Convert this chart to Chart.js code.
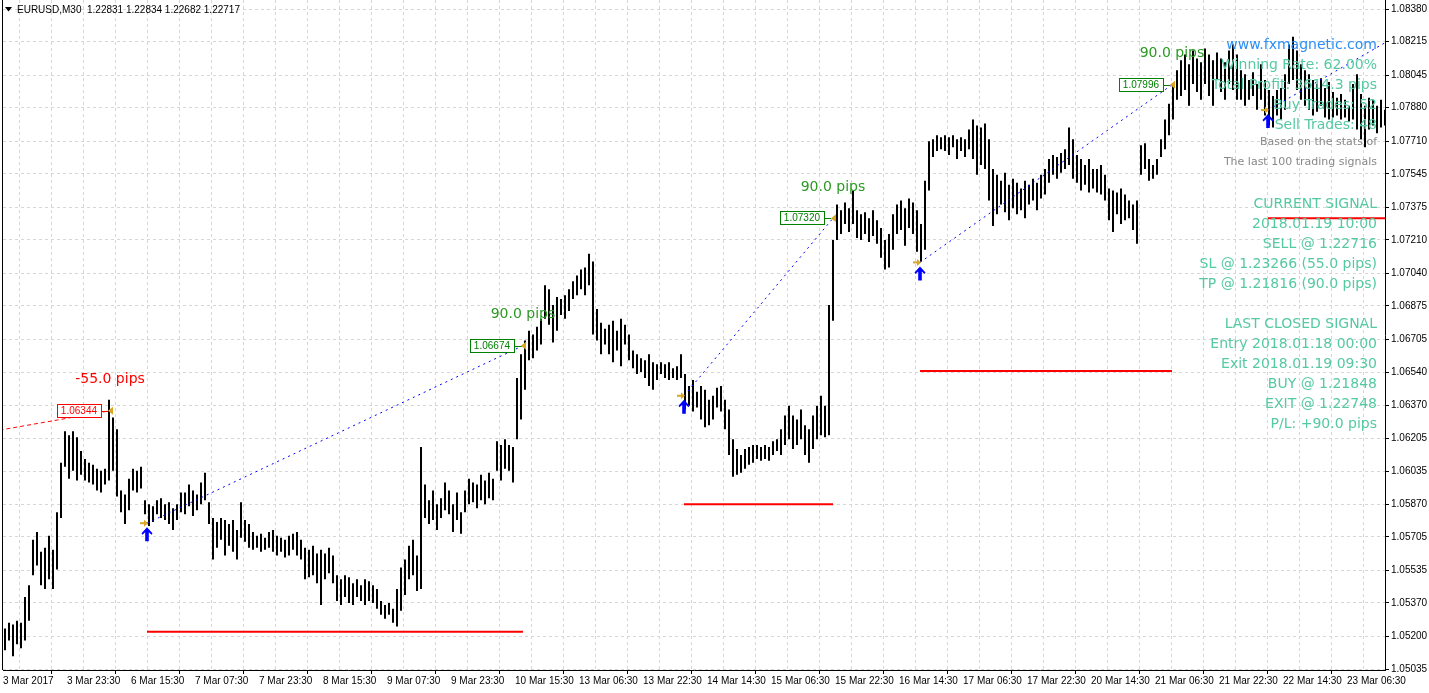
<!DOCTYPE html>
<html>
<head>
<meta charset="utf-8">
<title>EURUSD,M30</title>
<script src="https://cdn.jsdelivr.net/npm/chart.js@4.4.0/dist/chart.umd.min.js"></script>
<style>
  html, body { margin: 0; padding: 0; background: #fff; }
  #wrap { position: relative; width: 1429px; height: 693px; }
</style>
</head>
<body>
<div id="wrap"><canvas id="chart"></canvas></div>
<script>
// header quote
const symbol = 'EURUSD,M30';
const lastQuote = ['1.22831', '1.22834', '1.22682', '1.22717'];

// time axis labels (one every 16 bars)
const timeLabels = ['3 Mar 2017', '3 Mar 23:30', '6 Mar 15:30', '7 Mar 07:30', '7 Mar 23:30',
  '8 Mar 15:30', '9 Mar 07:30', '9 Mar 23:30', '10 Mar 15:30', '13 Mar 06:30', '13 Mar 22:30',
  '14 Mar 14:30', '15 Mar 06:30', '15 Mar 22:30', '16 Mar 14:30', '17 Mar 06:30', '17 Mar 22:30',
  '20 Mar 14:30', '21 Mar 06:30', '21 Mar 22:30', '22 Mar 14:30', '23 Mar 06:30'];

// price axis labels
const priceTicks = [1.05035, 1.05200, 1.05370, 1.05535, 1.05705, 1.05870, 1.06035, 1.06205,
  1.06370, 1.06540, 1.06705, 1.06875, 1.07040, 1.07210, 1.07375, 1.07545, 1.07710, 1.07880,
  1.08045, 1.08215, 1.08380];

// bar highs / lows
const barHigh = [
  1.0524,1.0527,1.0526,1.0528,1.0527,1.0540,1.0546,1.0569,1.0573,1.0563,
  1.0565,1.0571,1.0564,1.0583,1.0608,1.0624,1.0622,1.0624,1.0621,1.0614,
  1.0610,1.0608,1.0607,1.0605,1.0604,1.0605,1.0640,1.0631,1.0625,1.0594,
  1.0592,1.0600,1.0605,1.0604,1.0606,1.0589,1.0587,1.0586,1.0589,1.0590,
  1.0587,1.0588,1.0585,1.0587,1.0593,1.0593,1.0597,1.0594,1.0592,1.0598,
  1.0603,1.0588,1.0580,1.0578,1.0580,1.0579,1.0577,1.0579,1.0574,1.0588,
  1.0579,1.0577,1.0573,1.0571,1.0572,1.0570,1.0573,1.0574,1.0571,1.0570,
  1.0569,1.0571,1.0572,1.0573,1.0569,1.0565,1.0564,1.0566,1.0562,1.0564,
  1.0562,1.0565,1.0561,1.0551,1.0549,1.0551,1.0550,1.0547,1.0549,1.0546,
  1.0549,1.0548,1.0546,1.0544,1.0538,1.0536,1.0537,1.0534,1.0544,1.0555,
  1.0559,1.0566,1.0569,1.0561,1.0616,1.0597,1.0589,1.0594,1.0587,1.0590,
  1.0598,1.0594,1.0587,1.0593,1.0583,1.0594,1.0600,1.0598,1.0597,1.0602,
  1.0599,1.0603,1.0600,1.0619,1.0617,1.0620,1.0617,1.0616,1.0651,1.0663,
  1.0670,1.0675,1.0673,1.0677,1.0681,1.0698,1.0696,1.0688,1.0692,1.0691,
  1.0693,1.0696,1.0700,1.0703,1.0706,1.0707,1.0714,1.0710,1.0686,1.0679,
  1.0676,1.0678,1.0680,1.0675,1.0681,1.0678,1.0673,1.0665,1.0663,1.0661,
  1.0660,1.0663,1.0659,1.0658,1.0659,1.0658,1.0659,1.0656,1.0657,1.0663,
  1.0653,1.0647,1.0650,1.0644,1.0647,1.0645,1.0640,1.0642,1.0646,1.0647,
  1.0640,1.0635,1.0620,1.0615,1.0612,1.0615,1.0616,1.0617,1.0617,1.0616,
  1.0617,1.0616,1.0619,1.0620,1.0625,1.0632,1.0637,1.0632,1.0630,1.0635,
  1.0627,1.0625,1.0632,1.0637,1.0642,1.0637,1.0688,1.0721,1.0739,1.0736,
  1.0740,1.0737,1.0746,1.0736,1.0734,1.0735,1.0732,1.0736,1.0731,1.0727,
  1.0721,1.0724,1.0734,1.0739,1.0741,1.0737,1.0742,1.0740,1.0736,1.0729,
  1.0751,1.0771,1.0772,1.0774,1.0773,1.0774,1.0773,1.0774,1.0772,1.0773,
  1.0772,1.0777,1.0782,1.0779,1.0778,1.0780,1.0772,1.0757,1.0754,1.0751,
  1.0755,1.0749,1.0752,1.0750,1.0747,1.0751,1.0749,1.0752,1.0750,1.0754,
  1.0757,1.0762,1.0764,1.0763,1.0765,1.0767,1.0778,1.0772,1.0764,1.0762,
  1.0759,1.0762,1.0757,1.0757,1.0759,1.0754,1.0747,1.0746,1.0745,1.0747,
  1.0744,1.0741,1.0739,1.0741,1.0769,1.0770,1.0762,1.0759,1.0762,1.0772,
  1.0782,1.0790,1.0800,1.0807,1.0812,1.0815,1.0810,1.0817,1.0813,1.0811,
  1.0818,1.0815,1.0812,1.0816,1.0813,1.0811,1.0817,1.0820,1.0815,1.0807,
  1.0805,1.0802,1.0806,1.0800,1.0810,1.0802,1.0797,1.0794,1.0797,1.0798,
  1.0805,1.0820,1.0824,1.0817,1.0810,1.0807,1.0805,1.0802,1.0800,1.0803,
  1.0798,1.0801,1.0796,1.0793,1.0795,1.0792,1.0789,1.0800,1.0805,1.0795,
  1.0789,1.0793,1.0792,1.0789,1.0792,1.0787
];
const barLow = [
  1.0513,1.0518,1.0510,1.0516,1.0514,1.0518,1.0528,1.0551,1.0556,1.0546,
  1.0544,1.0549,1.0544,1.0554,1.0580,1.0606,1.0600,1.0604,1.0599,1.0602,
  1.0599,1.0598,1.0597,1.0594,1.0593,1.0597,1.0599,1.0604,1.0591,1.0583,
  1.0577,1.0584,1.0594,1.0593,1.0595,1.0582,1.0576,1.0578,1.0582,1.0580,
  1.0579,1.0577,1.0574,1.0579,1.0583,1.0582,1.0586,1.0581,1.0584,1.0587,
  1.0589,1.0577,1.0559,1.0565,1.0569,1.0561,1.0566,1.0563,1.0559,1.0570,
  1.0568,1.0565,1.0564,1.0565,1.0563,1.0564,1.0565,1.0563,1.0561,1.0563,
  1.0560,1.0561,1.0564,1.0561,1.0559,1.0549,1.0550,1.0551,1.0547,1.0536,
  1.0549,1.0552,1.0547,1.0538,1.0536,1.0540,1.0537,1.0536,1.0540,1.0538,
  1.0536,1.0538,1.0537,1.0534,1.0531,1.0529,1.0531,1.0527,1.0525,1.0533,
  1.0541,1.0549,1.0551,1.0543,1.0544,1.0580,1.0577,1.0579,1.0574,1.0580,
  1.0584,1.0582,1.0573,1.0579,1.0572,1.0583,1.0587,1.0588,1.0585,1.0589,
  1.0587,1.0590,1.0589,1.0604,1.0599,1.0605,1.0604,1.0598,1.0620,1.0630,
  1.0645,1.0660,1.0661,1.0665,1.0668,1.0681,1.0678,1.0669,1.0675,1.0683,
  1.0681,1.0685,1.0691,1.0693,1.0696,1.0693,1.0698,1.0673,1.0670,1.0663,
  1.0668,1.0663,1.0659,1.0665,1.0657,1.0668,1.0660,1.0656,1.0653,1.0654,
  1.0651,1.0647,1.0645,1.0650,1.0653,1.0651,1.0650,1.0651,1.0650,1.0651,
  1.0635,1.0637,1.0634,1.0636,1.0630,1.0626,1.0627,1.0630,1.0636,1.0634,
  1.0625,1.0612,1.0601,1.0602,1.0603,1.0605,1.0607,1.0608,1.0610,1.0609,
  1.0610,1.0609,1.0612,1.0614,1.0612,1.0617,1.0620,1.0615,1.0617,1.0620,
  1.0612,1.0608,1.0615,1.0620,1.0622,1.0621,1.0622,1.0680,1.0721,1.0724,
  1.0729,1.0725,1.0729,1.0722,1.0721,1.0724,1.0720,1.0723,1.0719,1.0712,
  1.0706,1.0707,1.0716,1.0724,1.0726,1.0718,1.0727,1.0724,1.0715,1.0710,
  1.0716,1.0746,1.0763,1.0766,1.0767,1.0766,1.0764,1.0768,1.0762,1.0766,
  1.0763,1.0767,1.0762,1.0754,1.0759,1.0757,1.0741,1.0728,1.0734,1.0739,
  1.0735,1.0731,1.0737,1.0734,1.0736,1.0732,1.0739,1.0741,1.0736,1.0742,
  1.0744,1.0750,1.0754,1.0752,1.0755,1.0757,1.0759,1.0752,1.0750,1.0746,
  1.0749,1.0745,1.0747,1.0745,1.0744,1.0741,1.0731,1.0725,1.0734,1.0729,
  1.0731,1.0732,1.0726,1.0719,1.0754,1.0757,1.0751,1.0752,1.0754,1.0763,
  1.0767,1.0774,1.0782,1.0792,1.0794,1.0797,1.0789,1.0800,1.0796,1.0792,
  1.0800,1.0794,1.0789,1.0802,1.0796,1.0792,1.0800,1.0797,1.0792,1.0792,
  1.0789,1.0792,1.0794,1.0787,1.0792,1.0784,1.0779,1.0778,1.0784,1.0782,
  1.0787,1.0800,1.0802,1.0797,1.0792,1.0789,1.0787,1.0784,1.0786,1.0789,
  1.0783,1.0782,1.0783,1.0784,1.0782,1.0783,1.0781,1.0782,1.0777,1.0772,
  1.0768,1.0777,1.0779,1.0775,1.0778,1.0779
];

// signals: bar index (fractional = between bars) and price
const tradeEntryIdx   = [-10, 35.5, 169.75, 228.75, 315.75];
const tradeEntryPrice = [1.06215, 1.05774, 1.06420, 1.07096, 1.07868];
const tradeExitIdx    = [26.25, 129.5, 207, 291.75, 345.5];
const tradeExitPrice  = [1.06344, 1.06674, 1.07320, 1.07996, 1.08215];
const tradePips       = [-55.0, 90.0, 90.0, 90.0, null];
const stopLoss        = [null, 1.05224, 1.05870, 1.06546, 1.07320];

// info panel
const statsLines = ['www.fxmagnetic.com', 'Winning Rate: 62.00%', 'Total Profit: 3614.3 pips',
  'Buy Trades: 52', 'Sell Trades: 48'];
const noteLines = ['Based on the stats of', 'The last 100 trading signals'];
const currentLines = ['CURRENT SIGNAL', '2018.01.19 10:00', 'SELL @ 1.22716',
  'SL @ 1.23266 (55.0 pips)', 'TP @ 1.21816 (90.0 pips)'];
const closedLines = ['LAST CLOSED SIGNAL', 'Entry 2018.01.18 00:00', 'Exit 2018.01.19 09:30',
  'BUY @ 1.21848', 'EXIT @ 1.22748', 'P/L: +90.0 pips'];

const axisFont = "'Liberation Sans', Arial, sans-serif";
const textFont = "'DejaVu Sans', Verdana, sans-serif";
const gridColor = '#d6d6d6';

// vertical grid every 8 bars, labels every 16
const xTickValues = timeLabels.flatMap((_, k) => [-0.5 + 16 * k, 7.5 + 16 * k]);

const barData = barHigh.map((h, i) => ({ x: i, y: [barLow[i], h] }));

const tradeSets = tradeEntryIdx.map((ei, t) => ({
  type: 'line',
  data: [{ x: ei, y: tradeEntryPrice[t] }, { x: tradeExitIdx[t], y: tradeExitPrice[t] }],
  borderColor: tradePips[t] !== null && tradePips[t] < 0 ? '#ff0000' : '#0000ff',
  borderDash: tradePips[t] !== null && tradePips[t] < 0 ? [4, 3] : [2, 4],
  borderWidth: 1,
  pointRadius: 0,
  fill: false,
  order: 1
}));

const slSets = stopLoss.map((sl, t) => sl === null ? null : ({
  type: 'line',
  data: [{ x: tradeEntryIdx[t], y: sl }, { x: tradeExitIdx[t], y: sl }],
  borderColor: '#ff0000',
  borderWidth: 2,
  pointRadius: 0,
  fill: false,
  order: 1
})).filter(Boolean);

function drawEntryMarker(ctx, x, y) {
  ctx.strokeStyle = '#daa520';
  ctx.fillStyle = '#daa520';
  ctx.lineWidth = 2;
  ctx.beginPath();
  ctx.moveTo(x - 7, y);
  ctx.lineTo(x - 2, y);
  ctx.stroke();
  ctx.beginPath();
  ctx.moveTo(x - 3, y - 3.5);
  ctx.lineTo(x + 1, y);
  ctx.lineTo(x - 3, y + 3.5);
  ctx.closePath();
  ctx.fill();
}

function drawUpArrow(ctx, cx, top) {
  ctx.fillStyle = '#0000ff';
  ctx.beginPath();
  ctx.moveTo(cx, top);
  ctx.lineTo(cx + 5.5, top + 6);
  ctx.lineTo(cx + 4.5, top + 7.5);
  ctx.lineTo(cx + 1.8, top + 5);
  ctx.lineTo(cx + 1.8, top + 14);
  ctx.lineTo(cx - 1.8, top + 14);
  ctx.lineTo(cx - 1.8, top + 5);
  ctx.lineTo(cx - 4.5, top + 7.5);
  ctx.lineTo(cx - 5.5, top + 6);
  ctx.closePath();
  ctx.fill();
}

const overlay = {
  id: 'overlay',
  afterDatasetsDraw(chart) {
    const { ctx, chartArea: a, scales: { x, y } } = chart;
    ctx.save();

    // left frame
    ctx.strokeStyle = '#000';
    ctx.lineWidth = 1;
    ctx.beginPath();
    ctx.moveTo(a.left - 0.5, 0);
    ctx.lineTo(a.left - 0.5, a.bottom);
    ctx.stroke();

    // signal markers, exit boxes, results
    tradeEntryIdx.forEach((ei, t) => {
      const ex = x.getPixelForValue(ei);
      const ey = y.getPixelForValue(tradeEntryPrice[t]);
      if (ex >= a.left) {
        drawEntryMarker(ctx, ex, ey);
        drawUpArrow(ctx, ex, ey + 4);
      }
      if (tradePips[t] === null) return;
      const xx = x.getPixelForValue(tradeExitIdx[t]);
      const xy = y.getPixelForValue(tradeExitPrice[t]);
      const loss = tradePips[t] < 0;
      const col = loss ? '#ff0000' : '#008000';

      ctx.font = '10px ' + axisFont;
      const txt = tradeExitPrice[t].toFixed(5);
      const w = ctx.measureText(txt).width + 8;
      const right = Math.round(xx - 9);
      const top = Math.round(xy - 7);
      ctx.fillStyle = '#fff';
      ctx.fillRect(right - w, top, w, 14);
      ctx.strokeStyle = col;
      ctx.lineWidth = 1;
      ctx.strokeRect(Math.round(right - w) + 0.5, top + 0.5, Math.round(w), 13);
      ctx.beginPath();
      ctx.moveTo(right, Math.round(xy) + 0.5);
      ctx.lineTo(xx - 2, Math.round(xy) + 0.5);
      ctx.stroke();
      ctx.fillStyle = col;
      ctx.textAlign = 'center';
      ctx.textBaseline = 'middle';
      ctx.fillText(txt, right - w / 2, top + 7.5);

      // exit triangle
      ctx.fillStyle = '#daa520';
      ctx.beginPath();
      ctx.moveTo(xx - 2, xy);
      ctx.lineTo(xx + 3, xy - 4);
      ctx.lineTo(xx + 3, xy + 4);
      ctx.closePath();
      ctx.fill();

      // result
      ctx.font = '14px ' + textFont;
      ctx.fillStyle = loss ? '#ff0000' : '#2a9a22';
      ctx.fillText(tradePips[t].toFixed(1) + ' pips', xx, xy - 31);
    });

    // header
    ctx.fillStyle = '#000';
    ctx.beginPath();
    ctx.moveTo(5, 7);
    ctx.lineTo(12, 7);
    ctx.lineTo(8.5, 11.5);
    ctx.closePath();
    ctx.fill();
    ctx.font = '10px ' + axisFont;
    ctx.textAlign = 'left';
    ctx.textBaseline = 'middle';
    ctx.fillText(symbol + '  ' + lastQuote.join(' '), 17, 10);

    // info panel
    const px = a.right - 8;
    ctx.textAlign = 'right';
    ctx.font = '14px ' + textFont;
    statsLines.forEach((s, k) => {
      ctx.fillStyle = k === 0 ? '#2b8ef5' : '#55c9a3';
      ctx.fillText(s, px, 45 + 20 * k);
    });
    ctx.font = '11px ' + textFont;
    ctx.fillStyle = '#888888';
    noteLines.forEach((s, k) => ctx.fillText(s, px, 142 + 20 * k));
    ctx.font = '14px ' + textFont;
    ctx.fillStyle = '#55c9a3';
    currentLines.forEach((s, k) => ctx.fillText(s, px, 204 + 20 * k));
    closedLines.forEach((s, k) => ctx.fillText(s, px, 324 + 20 * k));

    ctx.restore();
  }
};

new Chart(document.getElementById('chart'), {
  type: 'bar',
  data: {
    datasets: [
      {
        label: symbol,
        data: barData,
        backgroundColor: '#000',
        borderWidth: 0,
        barThickness: 2,
        inflateAmount: 0,
        order: 2
      },
      ...tradeSets,
      ...slSets
    ]
  },
  options: {
    responsive: true,
    maintainAspectRatio: false,
    animation: false,
    events: [],
    layout: { padding: { left: 3, top: 0, right: 0, bottom: 0 } },
    plugins: {
      legend: { display: false },
      tooltip: { enabled: false }
    },
    scales: {
      x: {
        type: 'linear',
        min: -0.5,
        max: 345,
        offset: false,
        afterBuildTicks: s => { s.ticks = xTickValues.map(v => ({ value: v })); },
        afterFit: s => { s.height = 23; s.paddingLeft = 0; s.paddingRight = 0; },
        ticks: {
          autoSkip: false,
          maxRotation: 0,
          minRotation: 0,
          align: 'start',
          padding: 1,
          color: '#000',
          font: { family: axisFont, size: 10 },
          callback: (v, i) => i % 2 === 0 ? timeLabels[i / 2] : ''
        },
        grid: {
          color: gridColor,
          tickColor: c => c.index % 2 === 0 ? '#000' : 'rgba(0,0,0,0)',
          tickLength: 4
        },
        border: { display: true, color: '#000', dash: [3, 3] }
      },
      y: {
        type: 'linear',
        position: 'right',
        min: 1.0503,
        max: 1.08426,
        afterBuildTicks: s => { s.ticks = priceTicks.map(v => ({ value: v })); },
        afterFit: s => { s.width = 44; s.paddingTop = 0; s.paddingBottom = 0; },
        ticks: {
          padding: 2,
          color: '#000',
          font: { family: axisFont, size: 10 },
          callback: v => v.toFixed(5)
        },
        grid: { color: gridColor, tickColor: '#000', tickLength: 4 },
        border: { display: true, color: '#000', dash: [3, 3] }
      }
    }
  },
  plugins: [overlay]
});
</script>
</body>
</html>
